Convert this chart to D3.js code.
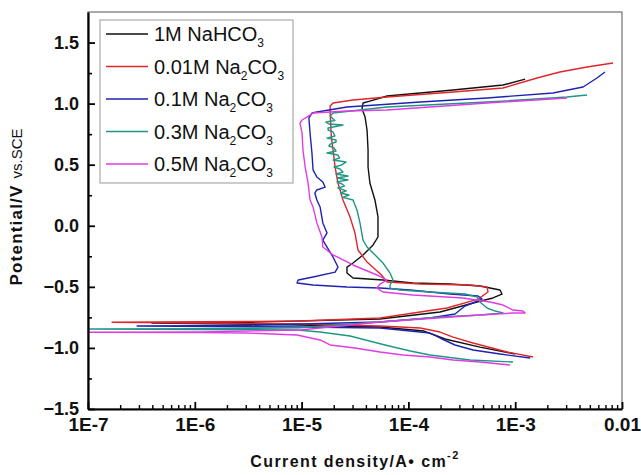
<!DOCTYPE html>
<html>
<head>
<meta charset="utf-8">
<script src="https://cdn.jsdelivr.net/npm/d3@7"></script>
<style>
  body { margin: 0; background: #fff; }
  svg { display: block; font-family: Arial, "Liberation Sans", sans-serif; }
</style>
</head>
<body>
<svg id="chart" width="641" height="475"></svg>
<script>
// Polarization curves, [current density A/cm2, potential V vs SCE]
const nahco3_1M = [
  [9.95e-4, -1.050], [4.68e-4, -0.993], [2.20e-4, -0.927], [1.75e-4, -0.894], [1.40e-4, -0.862],
  [5.42e-5, -0.829], [9.66e-6, -0.812], [3.97e-7, -0.796],
  [3.29e-6, -0.790], [5.42e-5, -0.763], [1.98e-4, -0.706], [4.39e-4, -0.624], [6.19e-4, -0.591],
  [7.52e-4, -0.559], [7.21e-4, -0.526], [4.68e-4, -0.493], [2.45e-4, -0.477], [1.10e-4, -0.469],
  [5.78e-5, -0.444], [3.03e-5, -0.428], [2.66e-5, -0.387], [2.66e-5, -0.338], [3.03e-5, -0.305],
  [3.76e-5, -0.239], [4.67e-5, -0.157], [5.19e-5, -0.092], [5.19e-5, 0.072], [4.86e-5, 0.211],
  [4.36e-5, 0.350], [4.19e-5, 0.481], [4.19e-5, 0.620], [4.10e-5, 0.784], [3.93e-5, 0.890],
  [3.68e-5, 0.956], [3.76e-5, 1.005], [4.36e-5, 1.021], [6.31e-5, 1.062], [2.62e-4, 1.111],
  [7.69e-4, 1.152], [1.24e-3, 1.201]
];
const na2co3_001 = [
  [1.47e-3, -1.074], [8.40e-4, -1.033], [4.03e-4, -0.960], [2.62e-4, -0.911], [1.98e-4, -0.870],
  [1.29e-4, -0.837], [5.42e-5, -0.821], [9.66e-6, -0.804], [1.12e-6, -0.796], [1.68e-7, -0.790],
  [1.12e-6, -0.786], [9.66e-6, -0.780], [5.42e-5, -0.755], [2.30e-4, -0.673], [4.49e-4, -0.600],
  [5.56e-4, -0.542], [5.45e-4, -0.501], [3.78e-4, -0.485], [1.29e-4, -0.477], [6.31e-5, -0.460],
  [5.60e-5, -0.403], [4.10e-5, -0.297], [3.37e-5, -0.198], [3.16e-5, -0.059], [2.84e-5, 0.072],
  [2.44e-5, 0.211], [2.19e-5, 0.350], [2.06e-5, 0.481], [1.97e-5, 0.620], [1.90e-5, 0.727],
  [1.85e-5, 0.923], [1.85e-5, 0.980], [1.97e-5, 1.005], [3.03e-5, 1.030], [6.31e-5, 1.054],
  [2.62e-4, 1.095], [7.69e-4, 1.128], [1.60e-3, 1.210], [2.62e-3, 1.259], [4.70e-3, 1.300],
  [8.24e-3, 1.332]
];
const na2co3_01 = [
  [1.38e-3, -1.083], [7.21e-4, -1.050], [4.03e-4, -1.017], [2.73e-4, -0.976], [2.07e-4, -0.927],
  [1.75e-4, -0.894], [1.59e-4, -0.878], [8.34e-5, -0.853], [5.42e-5, -0.837], [9.66e-6, -0.829],
  [2.88e-7, -0.821],
  [3.29e-6, -0.815], [5.42e-5, -0.788], [1.59e-4, -0.755], [2.73e-4, -0.722], [3.39e-4, -0.657],
  [4.21e-4, -0.624], [4.89e-4, -0.600], [4.49e-4, -0.575], [2.45e-4, -0.559], [1.04e-4, -0.526],
  [5.42e-5, -0.510], [2.66e-5, -0.501], [1.28e-5, -0.485], [9.06e-6, -0.469], [9.30e-6, -0.444],
  [1.28e-5, -0.419], [2.06e-5, -0.379], [2.19e-5, -0.338], [1.97e-5, -0.256], [1.73e-5, -0.174],
  [1.58e-5, -0.117], [1.73e-5, -0.059], [1.58e-5, 0.023], [1.49e-5, 0.154], [1.39e-5, 0.211],
  [1.33e-5, 0.268], [1.39e-5, 0.293], [1.66e-5, 0.317], [1.58e-5, 0.358], [1.39e-5, 0.399],
  [1.28e-5, 0.457], [1.25e-5, 0.596], [1.20e-5, 0.759], [1.17e-5, 0.882], [1.25e-5, 0.923],
  [1.39e-5, 0.931], [2.66e-5, 0.972], [1.29e-4, 1.013], [5.45e-4, 1.046], [2.26e-3, 1.087],
  [4.32e-3, 1.136], [5.83e-3, 1.210], [6.93e-3, 1.259]
];
const na2co3_03 = [
  [9.53e-4, -1.115], [3.78e-4, -1.099], [1.59e-4, -1.058], [1.04e-4, -1.025], [6.04e-5, -0.976],
  [2.84e-5, -0.902], [1.49e-5, -0.870], [9.06e-6, -0.853], [1.12e-6, -0.849], [8.0e-8, -0.845],
  [1.12e-6, -0.843], [9.66e-6, -0.835], [5.42e-5, -0.788], [1.98e-4, -0.747], [4.68e-4, -0.731],
  [7.69e-4, -0.714], [6.50e-4, -0.698], [5.45e-4, -0.673], [4.68e-4, -0.624], [4.39e-4, -0.583],
  [3.39e-4, -0.559], [1.59e-4, -0.542], [8.34e-5, -0.526], [6.73e-5, -0.510], [6.73e-5, -0.485],
  [7.18e-5, -0.444], [6.73e-5, -0.387], [5.78e-5, -0.305], [4.67e-5, -0.223], [4.10e-5, -0.174],
  [3.76e-5, -0.117], [3.52e-5, 0.023], [3.30e-5, 0.129], [3.03e-5, 0.211], [2.44e-5, 0.232],
  [2.78e-5, 0.252], [2.31e-5, 0.268], [2.62e-5, 0.285], [2.19e-5, 0.309], [2.52e-5, 0.325],
  [2.39e-5, 0.342], [2.14e-5, 0.359], [2.72e-5, 0.375], [2.16e-5, 0.391], [2.72e-5, 0.407],
  [2.10e-5, 0.424], [2.44e-5, 0.440], [2.29e-5, 0.465], [2.01e-5, 0.481], [2.35e-5, 0.497],
  [2.61e-5, 0.522], [1.97e-5, 0.538], [2.27e-5, 0.555], [2.19e-5, 0.579], [1.73e-5, 0.596],
  [2.10e-5, 0.612], [2.01e-5, 0.637], [1.80e-5, 0.653], [1.85e-5, 0.669], [2.10e-5, 0.686],
  [2.10e-5, 0.702], [1.73e-5, 0.718], [2.05e-5, 0.735], [1.97e-5, 0.768], [1.77e-5, 0.784],
  [1.77e-5, 0.800], [2.44e-5, 0.825], [1.80e-5, 0.833], [1.69e-5, 0.849], [2.05e-5, 0.862],
  [1.97e-5, 0.874], [1.85e-5, 0.899], [1.97e-5, 0.923], [3.52e-5, 0.948], [6.31e-5, 0.972],
  [5.45e-4, 1.013], [3.05e-3, 1.054], [4.70e-3, 1.071]
];
const na2co3_05 = [
  [8.93e-4, -1.140], [4.68e-4, -1.115], [2.62e-4, -1.099], [1.59e-4, -1.074], [8.89e-5, -1.058],
  [5.42e-5, -1.033], [3.16e-5, -1.001], [1.85e-5, -0.976], [1.49e-5, -0.935], [9.06e-6, -0.894],
  [3.08e-6, -0.878], [1.12e-6, -0.874], [7.0e-8, -0.872],
  [1.12e-6, -0.870], [9.66e-6, -0.853], [5.42e-5, -0.788], [4.68e-4, -0.731], [9.53e-4, -0.714],
  [1.24e-3, -0.714], [1.18e-3, -0.698], [9.53e-4, -0.690], [7.69e-4, -0.649], [5.81e-4, -0.624],
  [3.24e-4, -0.591], [1.10e-4, -0.567], [5.78e-5, -0.542], [5.08e-5, -0.510], [5.42e-5, -0.477],
  [6.31e-5, -0.444], [5.08e-5, -0.403], [3.03e-5, -0.321], [1.97e-5, -0.239], [1.58e-5, -0.174],
  [1.55e-5, -0.092], [1.39e-5, 0.023], [1.28e-5, 0.154], [1.20e-5, 0.211], [1.15e-5, 0.350],
  [1.08e-5, 0.481], [1.03e-5, 0.620], [1.01e-5, 0.759], [9.66e-6, 0.841], [1.01e-5, 0.866],
  [1.12e-5, 0.890], [1.28e-5, 0.923], [2.66e-5, 0.940], [6.31e-5, 0.948], [5.45e-4, 1.005],
  [3.05e-3, 1.046]
];

const seriesNames = ["1M NaHCO_3", "0.01M Na_2CO_3", "0.1M Na_2CO_3", "0.3M Na_2CO_3", "0.5M Na_2CO_3"];
const seriesData = [nahco3_1M, na2co3_001, na2co3_01, na2co3_03, na2co3_05];
const seriesColors = ["#111111", "#e0262a", "#1f22b0", "#1f9684", "#e03ce4"];

const xTicks = [1e-7, 1e-6, 1e-5, 1e-4, 1e-3, 1e-2];
const xTickLabels = ["1E-7", "1E-6", "1E-5", "1E-4", "1E-3", "0.01"];
const yTicks = [-1.5, -1.0, -0.5, 0.0, 0.5, 1.0, 1.5];

// Layout
const plotLeft = 88, plotRight = 622, plotTop = 12, plotBottom = 409;

const svg = d3.select("#chart");

const x = d3.scaleLog().domain([1e-7, 1e-2]).range([plotLeft, plotRight]);
const y = d3.scaleLinear().domain([-1.5, 1.75]).range([plotBottom, plotTop]);

svg.append("defs").append("clipPath").attr("id", "plot-clip")
  .append("rect")
  .attr("x", plotLeft).attr("y", plotTop)
  .attr("width", plotRight - plotLeft).attr("height", plotBottom - plotTop);

// frame (top / right thin)
svg.append("rect")
  .attr("x", plotLeft).attr("y", plotTop)
  .attr("width", plotRight - plotLeft).attr("height", plotBottom - plotTop)
  .attr("fill", "none")
  .attr("stroke", "#555")
  .attr("stroke-width", 1);

// curves
const line = d3.line()
  .x(d => x(d[0]))
  .y(d => y(d[1]));

svg.append("g")
  .attr("clip-path", "url(#plot-clip)")
  .selectAll("path")
  .data(seriesData)
  .enter()
  .append("path")
  .attr("d", line)
  .attr("fill", "none")
  .attr("stroke", (d, i) => seriesColors[i])
  .attr("stroke-width", 1.4)
  .attr("stroke-linejoin", "round");

// minor ticks
const xMinor = [];
for (let e = -7; e < -2; e++) {
  for (let m = 2; m <= 9; m++) xMinor.push(m * Math.pow(10, e));
}
svg.append("g")
  .attr("transform", `translate(0,${plotBottom})`)
  .call(d3.axisBottom(x).tickValues(xMinor).tickSize(-4).tickFormat(""))
  .call(g => g.select(".domain").remove())
  .selectAll("line").attr("stroke-width", 1.4);

svg.append("g")
  .attr("transform", `translate(${plotLeft},0)`)
  .call(d3.axisLeft(y).tickValues([-1.25, -0.75, -0.25, 0.25, 0.75, 1.25]).tickSize(-4).tickFormat(""))
  .call(g => g.select(".domain").remove())
  .selectAll("line").attr("stroke-width", 1.6);

// major axes
const xAxis = svg.append("g")
  .attr("transform", `translate(0,${plotBottom})`)
  .call(d3.axisBottom(x).tickValues(xTicks).tickSizeInner(-7).tickSizeOuter(0).tickPadding(9)
    .tickFormat((d, i) => xTickLabels[i]));
xAxis.select(".domain").attr("stroke-width", 2.2);
xAxis.selectAll("line").attr("stroke-width", 1.8);
xAxis.selectAll("text")
  .attr("font-size", 19).attr("font-weight", "bold").attr("fill", "#111")
  .attr("font-family", "Arial, 'Liberation Sans', sans-serif");

const yAxis = svg.append("g")
  .attr("transform", `translate(${plotLeft},0)`)
  .call(d3.axisLeft(y).tickValues(yTicks).tickSizeInner(-7).tickSizeOuter(0).tickPadding(9)
    .tickFormat(d3.format(".1f")));
yAxis.select(".domain").attr("stroke-width", 2.2);
yAxis.selectAll("line").attr("stroke-width", 1.8);
yAxis.selectAll("text")
  .attr("font-size", 18).attr("font-weight", "bold").attr("fill", "#111")
  .attr("font-family", "Arial, 'Liberation Sans', sans-serif");

// axis titles
const xTitle = svg.append("text")
  .attr("x", 355).attr("y", 467)
  .attr("text-anchor", "middle")
  .attr("font-size", 16).attr("font-weight", "bold")
  .attr("letter-spacing", 1.4)
  .attr("fill", "#111");
xTitle.append("tspan").text("Current density/A\u2022 cm");
xTitle.append("tspan").attr("dy", -8).attr("font-size", 11).text("-2");

const yTitle = svg.append("text")
  .attr("transform", "translate(22,207) rotate(-90)")
  .attr("text-anchor", "middle")
  .attr("fill", "#111");
yTitle.append("tspan").attr("font-size", 17).attr("font-weight", "bold")
  .attr("letter-spacing", 1.2).text("Potential/V ");
yTitle.append("tspan").attr("font-size", 15).text("vs.SCE");

// legend
const legend = svg.append("g");
legend.append("rect")
  .attr("x", 100).attr("y", 20)
  .attr("width", 193).attr("height", 163)
  .attr("fill", "#fff")
  .attr("stroke", "#999")
  .attr("stroke-width", 1);

const rowY = i => 34 + i * 32.5;

legend.selectAll(".leg-line")
  .data(seriesNames)
  .enter()
  .append("line")
  .attr("x1", 106).attr("x2", 148)
  .attr("y1", (d, i) => rowY(i)).attr("y2", (d, i) => rowY(i))
  .attr("stroke", (d, i) => seriesColors[i])
  .attr("stroke-width", 1.6);

legend.selectAll(".leg-text")
  .data(seriesNames)
  .enter()
  .append("text")
  .attr("x", 154)
  .attr("y", (d, i) => rowY(i) + 7)
  .attr("font-size", 20)
  .attr("fill", "#111")
  .each(function (d) {
    const t = d3.select(this);
    d.split(/_(\d)/).forEach((part, k) => {
      if (!part) return;
      if (k % 2 === 1) {
        t.append("tspan").attr("dy", 6).attr("font-size", 12).text(part);
      } else {
        t.append("tspan").attr("dy", k === 0 ? 0 : -6).text(part);
      }
    });
  });
</script>
</body>
</html>
